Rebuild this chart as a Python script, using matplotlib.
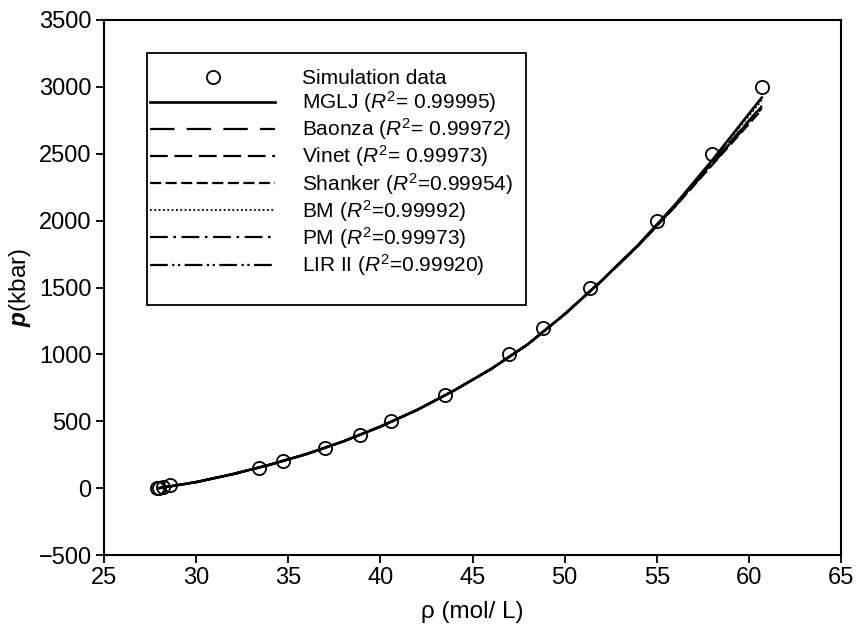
import matplotlib
matplotlib.use("Agg")
import matplotlib.pyplot as plt
from matplotlib.patches import Rectangle

plt.rcParams['font.family'] = ['Liberation Sans', 'DejaVu Sans']
plt.rcParams['mathtext.fontset'] = 'custom'
plt.rcParams['mathtext.rm'] = 'Liberation Sans'
plt.rcParams['mathtext.it'] = 'Liberation Sans:italic'
plt.rcParams['mathtext.bf'] = 'Liberation Sans:bold'
plt.rcParams['mathtext.bfit'] = 'Liberation Sans:bold:italic'

# Simulation data
rho_sim = [27.9, 28.0, 28.2, 28.6, 33.4, 34.7, 37.0, 38.9, 40.6, 43.5, 47.0, 48.8, 51.4, 55.0, 58.0, 60.7]
p_sim = [0, 2, 8, 20, 150, 200, 300, 400, 500, 700, 1000, 1200, 1500, 2000, 2500, 3000]

# Fitted curves
rho_fit = [28.0, 30, 32, 34, 36, 38, 40, 42, 44, 46, 48, 50, 52, 54, 56, 58, 60.7]
p_mglj = [0, 45, 105, 175, 255, 350, 460, 585, 730, 890, 1075, 1300, 1550, 1820, 2120, 2450, 2920]
p_baonza = [0, 45, 105, 175, 255, 350, 460, 585, 730, 890, 1075, 1300, 1550, 1815, 2110, 2425, 2850]
p_vinet = [0, 45, 105, 175, 255, 350, 460, 585, 730, 890, 1075, 1300, 1550, 1816, 2112, 2430, 2860]
p_shanker = [0, 45, 105, 175, 255, 350, 460, 585, 730, 890, 1075, 1300, 1548, 1812, 2105, 2415, 2830]
p_bm = [0, 45, 105, 175, 255, 350, 460, 585, 730, 890, 1075, 1300, 1550, 1818, 2118, 2445, 2900]
p_pm = [0, 45, 105, 175, 255, 350, 460, 585, 730, 890, 1075, 1300, 1550, 1816, 2112, 2428, 2855]
p_lir = [0, 45, 105, 175, 255, 350, 460, 585, 730, 890, 1075, 1300, 1549, 1814, 2108, 2420, 2840]

labels = ['Simulation data',
          r'MGLJ ($\mathit{R}^2$= 0.99995)',
          r'Baonza ($\mathit{R}^2$= 0.99972)',
          r'Vinet ($\mathit{R}^2$= 0.99973)',
          r'Shanker ($\mathit{R}^2$=0.99954)',
          r'BM ($\mathit{R}^2$=0.99992)',
          r'PM ($\mathit{R}^2$=0.99973)',
          r'LIR II ($\mathit{R}^2$=0.99920)']

W, H = 861, 629
fig = plt.figure(figsize=(W / 100, H / 100), dpi=100)
ax = fig.add_axes([104 / W, 74 / H, 737 / W, 535 / H])

lw = 1.6
h0, = ax.plot(rho_sim, p_sim, 'o', mfc='none', mec='black', ms=9.5, mew=1.3, zorder=5, linestyle='none')
h1, = ax.plot(rho_fit, p_mglj, color='black', lw=lw + 0.3, linestyle='-')
h2, = ax.plot(rho_fit, p_baonza, color='black', lw=lw, dashes=(11, 5.5))
h3, = ax.plot(rho_fit, p_vinet, color='black', lw=lw, dashes=(8, 3))
h4, = ax.plot(rho_fit, p_shanker, color='black', lw=lw, dashes=(5, 2))
h5, = ax.plot(rho_fit, p_bm, color='black', lw=lw - 0.3, dashes=(1, 1.4))
h6, = ax.plot(rho_fit, p_pm, color='black', lw=lw, dashes=(8, 2.5, 1.2, 2.5))
h7, = ax.plot(rho_fit, p_lir, color='black', lw=lw, dashes=(8, 2, 1, 1.6, 1, 2))

ax.set_xlim(25, 65)
ax.set_ylim(-500, 3500)
ax.set_xticks(range(25, 66, 5))
ax.set_yticks(range(-500, 3501, 500))
ax.tick_params(direction='out', length=6, width=1.3, labelsize=17, top=False, right=False, pad=3)
for s in ax.spines.values():
    s.set_linewidth(1.5)

ax.set_xlabel('ρ (mol/ L)', fontsize=17.5, labelpad=8)
ax.set_ylabel(r'$\mathbfit{p}$(kbar)', fontsize=17.5, labelpad=4)

leg = fig.legend([h0, h1, h2, h3, h4, h5, h6, h7], labels, loc='upper left',
                 bbox_to_anchor=(150 / W, (H - 69) / H), bbox_transform=fig.transFigure,
                 borderaxespad=0, fontsize=15, handlelength=6.0, numpoints=1,
                 frameon=False, labelspacing=0.06, borderpad=0, handletextpad=1.3)

fig.canvas.draw()
bb = leg.get_window_extent()
pad_l, pad_r, pad_t, pad_b = 3, 13, 16, 27
x0, y0 = fig.transFigure.inverted().transform((bb.x0 - pad_l, bb.y0 - pad_b))
x1, y1 = fig.transFigure.inverted().transform((bb.x1 + pad_r, bb.y1 + pad_t))
fig.add_artist(Rectangle((x0, y0), x1 - x0, y1 - y0, transform=fig.transFigure,
                         fill=False, edgecolor='black', linewidth=1.3, zorder=6))

fig.savefig('out.png', dpi=100)
